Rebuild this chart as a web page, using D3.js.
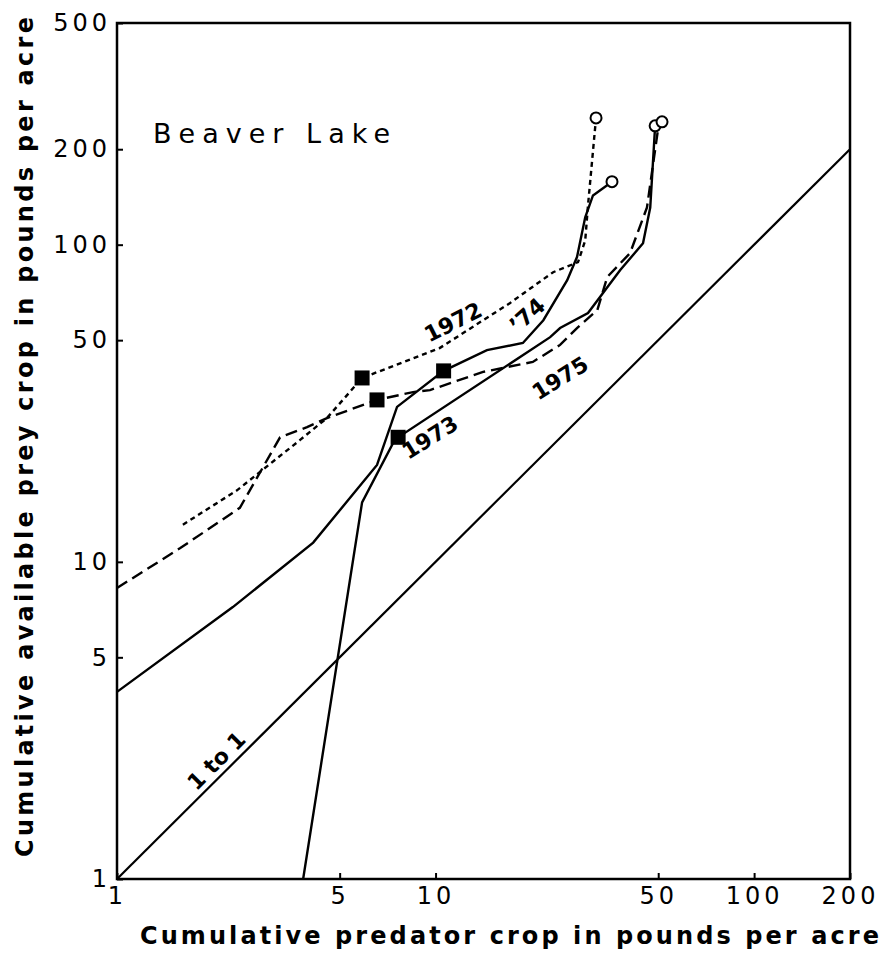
<!DOCTYPE html>
<html>
<head>
<meta charset="utf-8">
<script src="https://cdn.jsdelivr.net/npm/d3@7"></script>
<style>
    html, body { margin: 0; padding: 0; background: #fff; }
    svg { display: block; }
    text { font-family: "DejaVu Sans", sans-serif; fill: #000; }
</style>
</head>
<body>
<svg id="chart" width="891" height="953"></svg>
<script>
"use strict";

// tick values, both axes are log scaled
var xTicks = [1, 5, 10, 50, 100, 200];
var yTicks = [1, 5, 10, 50, 100, 200, 500];

// [cumulative predator crop, cumulative available prey crop] (lb/acre)
var series1972 = [[1.61, 13.1], [2.38, 16.8], [3.75, 24.2], [4.56, 28.4], [5.88, 38.0], [10.3, 47.2],
                  [17.1, 65.4], [23.4, 81.9], [28.0, 88.1], [29.5, 103], [30.1, 133], [31.9, 251]];
var series1973 = [[3.84, 1], [5.88, 15.4], [7.36, 23.7], [7.63, 24.7], [22.9, 51.1], [24.6, 54.6],
                  [30.1, 60.9], [38.0, 83.2], [44.8, 101], [47.2, 131], [48.9, 237]];
var series1974 = [[1, 3.89], [2.31, 7.2], [4.13, 11.5], [6.55, 20.2], [7.57, 30.8], [10.6, 40.0],
                  [14.5, 46.5], [18.8, 49.0], [21.8, 57.8], [25.9, 77.3], [27.8, 91.4], [29.5, 122],
                  [31.2, 143], [35.8, 158]];
var series1975 = [[1, 8.27], [1.58, 11.05], [2.43, 14.8], [3.25, 24.7], [3.95, 26.6], [4.56, 28.4],
                  [6.55, 32.4], [8.5, 34.3], [9.61, 34.8], [14.1, 39.7], [20.2, 42.7], [24.6, 48.3],
                  [27.8, 54.6], [32.2, 62.2], [34.6, 79.1], [40.8, 94.1], [46.1, 131], [49.9, 230],
                  [51.4, 244]];
var oneToOne = [[1, 1], [200, 200]];

// filled squares on each curve
var squarePoints = [[5.88, 38.0], [7.63, 24.7], [10.6, 40.0], [6.55, 32.4]];

var curves = [
    {name: '1972', data: series1972, dash: '5,4'},
    {name: '1973', data: series1973, dash: null},
    {name: '1974', data: series1974, dash: null},
    {name: '1975', data: series1975, dash: '12,6'}
];

// curve labels: text, centre [x, y] in data units, rotation
var curveLabels = [
    {text: '1972', at: [11.35, 57.0], angle: -27},
    {text: '\u201974', at: [19.4, 60.0], angle: -42},
    {text: '1973', at: [9.61, 24.7], angle: -32},
    {text: '1975', at: [24.6, 38.0], angle: -32},
    {text: '1 to 1', at: [2.05, 2.36], angle: -45}
];

var margin = {top: 23, right: 41, bottom: 74, left: 117};
var width = 891, height = 953;

var svg = d3.select('#chart');

var x = d3.scaleLog()
          .domain([1, 200])
          .range([margin.left, width - margin.right]);
var y = d3.scaleLog()
          .domain([1, 500])
          .range([height - margin.bottom, margin.top]);

var line = d3.line()
             .x(function(d) { return x(d[0]); })
             .y(function(d) { return y(d[1]); });

// axes with small inward ticks
var xAxis = svg.append('g')
                   .attr('transform', 'translate(0,' + y(1) + ')')
                   .call(d3.axisBottom(x)
                           .tickValues(xTicks)
                           .tickSizeInner(-6)
                           .tickSizeOuter(0)
                           .tickPadding(8)
                           .tickFormat(d3.format('d')));

var yAxis = svg.append('g')
                   .attr('transform', 'translate(' + x(1) + ',0)')
                   .call(d3.axisLeft(y)
                           .tickValues(yTicks)
                           .tickSizeInner(-6)
                           .tickSizeOuter(0)
                           .tickPadding(6)
                           .tickFormat(d3.format('d')));

[xAxis, yAxis].forEach(function(axis) {
    axis.select('.domain').remove();
    axis.selectAll('.tick line')
            .attr('stroke', '#000')
            .attr('stroke-width', 2);
    axis.selectAll('.tick text')
            .attr('font-family', '"DejaVu Sans", sans-serif')
            .attr('font-size', 24)
            .attr('letter-spacing', '4px');
});

// plot frame
svg.append('rect')
       .attr('x', x(1))
       .attr('y', y(500))
       .attr('width', x(200) - x(1))
       .attr('height', y(1) - y(500))
       .attr('fill', 'none')
       .attr('stroke', '#000')
       .attr('stroke-width', 2.5);

// 1 to 1 reference
svg.append('path')
       .datum(oneToOne)
       .attr('d', line)
       .attr('fill', 'none')
       .attr('stroke', '#000')
       .attr('stroke-width', 2.2);

svg.selectAll('.curve')
   .data(curves)
   .enter()
   .append('path')
       .attr('class', 'curve')
       .attr('d', function(d) { return line(d.data); })
       .attr('fill', 'none')
       .attr('stroke', '#000')
       .attr('stroke-width', 2.4)
       .attr('stroke-dasharray', function(d) { return d.dash; });

// open circles at the end of each curve
svg.selectAll('.end')
   .data(curves)
   .enter()
   .append('circle')
       .attr('class', 'end')
       .attr('cx', function(d) { return x(d.data[d.data.length - 1][0]); })
       .attr('cy', function(d) { return y(d.data[d.data.length - 1][1]); })
       .attr('r', 5.5)
       .attr('fill', '#fff')
       .attr('stroke', '#000')
       .attr('stroke-width', 2);

var sq = 15;
svg.selectAll('.square')
   .data(squarePoints)
   .enter()
   .append('rect')
       .attr('class', 'square')
       .attr('x', function(d) { return x(d[0]) - sq / 2; })
       .attr('y', function(d) { return y(d[1]) - sq / 2; })
       .attr('width', sq)
       .attr('height', sq)
       .attr('fill', '#000');

svg.selectAll('.curve-label')
   .data(curveLabels)
   .enter()
   .append('text')
       .attr('class', 'curve-label')
       .attr('transform', function(d) {
           return 'translate(' + x(d.at[0]) + ',' + y(d.at[1]) + ') rotate(' + d.angle + ')';
       })
       .attr('text-anchor', 'middle')
       .attr('dy', '0.35em')
       .attr('font-size', 22)
       .attr('font-weight', 'bold')
       .text(function(d) { return d.text; });

svg.append('text')
       .attr('x', 153)
       .attr('y', 143)
       .attr('font-size', 27)
       .attr('textLength', 237)
       .attr('lengthAdjust', 'spacing')
       .text('Beaver Lake');

svg.append('text')
       .attr('x', 140)
       .attr('y', 944)
       .attr('font-size', 24)
       .attr('font-weight', 'bold')
       .attr('textLength', 739)
       .attr('lengthAdjust', 'spacing')
       .text('Cumulative predator crop in pounds per acre');

svg.append('text')
       .attr('transform', 'translate(33,857) rotate(-90)')
       .attr('font-size', 24)
       .attr('font-weight', 'bold')
       .attr('textLength', 840)
       .attr('lengthAdjust', 'spacing')
       .text('Cumulative available prey crop in pounds per acre');
</script>
</body>
</html>
